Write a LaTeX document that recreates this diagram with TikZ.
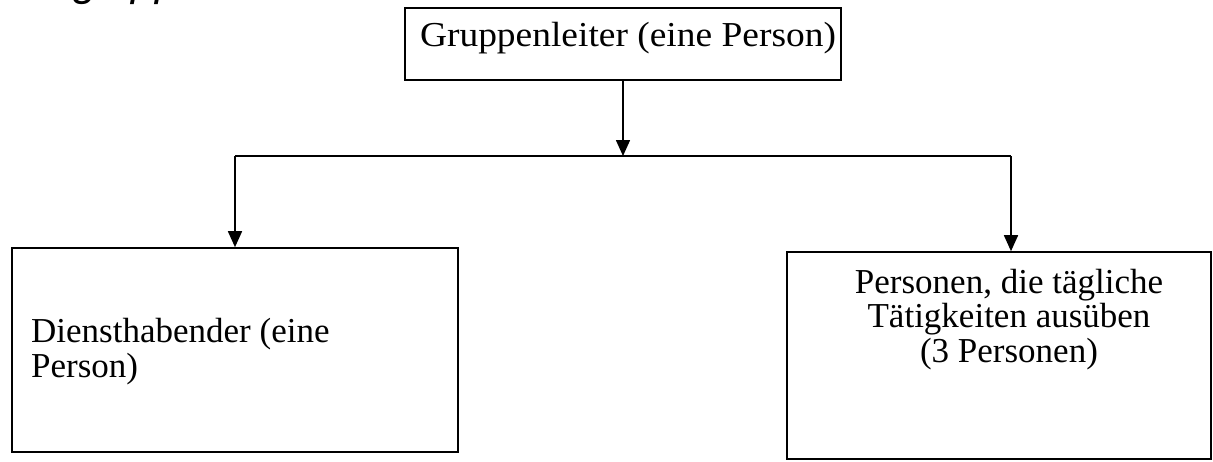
\documentclass[tikz,border=0pt]{standalone}
\usepackage{fontspec}
\setmainfont{Liberation Serif}
\newfontfamily\headsans{Liberation Sans}
\usetikzlibrary{arrows.meta}

\tikzset{
  box/.style={draw, line width=1.6pt, rectangle, inner sep=0pt},
  boxline/.style={inner sep=0pt, anchor=base, font=\fontsize{35}{35}\selectfont},
  boxlineleft/.style={boxline, anchor=base west},
  conn/.style={line width=1.6pt},
  arr/.style={conn, -{Triangle[length=16pt,width=14pt]}},
  headfrag/.style={inner sep=0pt, anchor=base west,
    font=\headsans\itshape\fontsize{44}{44}\selectfont}
}

\begin{document}
\begin{tikzpicture}[x=1pt,y=-1pt]
  \useasboundingbox[fill=white] (0,0) rectangle (1213,461);

  % descenders of the heading line running off the top edge
  \node[headfrag] (hg) at (73,-5) {g};
  \node[headfrag] (hpp) at (131,-5) {pp};

  % boxes
  \node[box, minimum width=436pt, minimum height=72pt] (top) at (623,44) {};
  \node[box, minimum width=446pt, minimum height=204pt] (left) at (235,350) {};
  \node[box, minimum width=424pt, minimum height=207pt] (right) at (999,355.5) {};

  % box labels, one node per line at its baseline
  \node[boxline] (t1) at (628,46) {\scalebox{1.07}[1]{Gruppenleiter (eine Person)}};

  \node[boxlineleft] (l1) at (31,342) {Diensthabender (eine};
  \node[boxlineleft] (l2) at (31,377) {Person)};

  \node[boxline] (r1) at (1009,293) {Personen, die tägliche};
  \node[boxline] (r2) at (1009,327.5) {Tätigkeiten ausüben};
  \node[boxline] (r3) at (1009,362) {(3 Personen)};

  % branch line
  \coordinate (hl) at (235,156);
  \coordinate (hr) at (1011,156);
  \draw[conn] (hl) -- (hr);

  % connectors
  \draw[arr] (top.south) -- (top.south |- hl);
  \draw[arr] (hl) -- (left.north);
  \draw[arr] (hr) -- (hr |- right.north);
\end{tikzpicture}
\end{document}
